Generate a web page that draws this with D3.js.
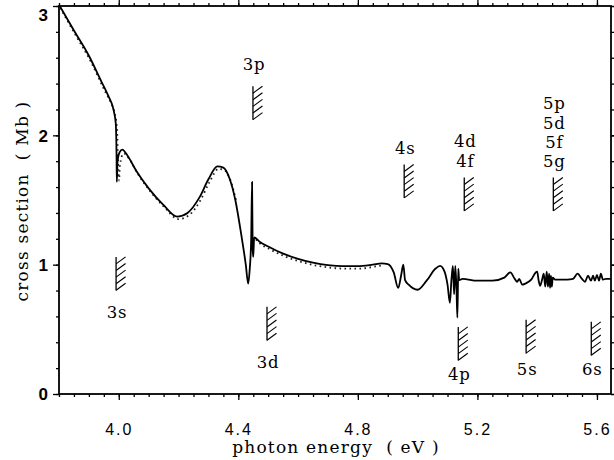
<!DOCTYPE html>
<html>
<head>
<meta charset="utf-8">
<script src="https://cdn.jsdelivr.net/npm/d3@7"></script>
<style>
  body { margin: 0; background: #fff; }
  svg { display: block; }
</style>
</head>
<body>
<svg id="chart" width="614" height="460"></svg>
<script>
// Photoionization cross section (Mb) versus photon energy (eV)
const energy = [
  3.800, 3.850, 3.900, 3.943, 3.965, 3.980, 3.985, 3.990, 3.9925, 3.9935, 3.996, 4.003, 4.012,
  4.030, 4.060, 4.100, 4.150, 4.195, 4.230, 4.270, 4.300, 4.330, 4.350, 4.370, 4.390,
  4.410, 4.425, 4.433, 4.438, 4.443, 4.446, 4.448, 4.450, 4.453, 4.470, 4.500, 4.550,
  4.600, 4.650, 4.700, 4.750, 4.800, 4.850, 4.880, 4.900, 4.920, 4.935, 4.945, 4.952,
  4.958, 4.970, 5.000, 5.030, 5.060, 5.075, 5.090, 5.100, 5.108, 5.113, 5.118, 5.122,
  5.126, 5.130, 5.133, 5.136, 5.139, 5.150, 5.200, 5.250, 5.290, 5.310, 5.325, 5.333,
  5.340, 5.350, 5.360, 5.380, 5.395, 5.400, 5.405, 5.410, 5.417, 5.422, 5.427, 5.432,
  5.436, 5.440, 5.443, 5.446, 5.449, 5.452, 5.460, 5.500, 5.520, 5.535, 5.550, 5.560,
  5.570, 5.580, 5.587, 5.593, 5.600, 5.607, 5.613, 5.620, 5.630, 5.647
];
const crossSection = [
  3.01, 2.81, 2.615, 2.41, 2.305, 2.22, 2.17, 2.09, 1.85, 1.64, 1.80, 1.87, 1.89,
  1.84, 1.72, 1.59, 1.46, 1.372, 1.40, 1.52, 1.66, 1.76, 1.75, 1.67, 1.50,
  1.23, 1.00, 0.853, 0.96, 1.19, 1.64, 1.12, 1.06, 1.21, 1.18, 1.14, 1.085,
  1.045, 1.015, 0.996, 0.988, 0.988, 1.000, 1.010, 1.005, 0.94, 0.82, 0.92, 1.00,
  0.88, 0.845, 0.806, 0.876, 0.97, 0.99, 0.946, 0.845, 0.705, 0.88, 0.99, 0.77,
  0.99, 0.81, 0.59, 0.97, 0.88, 0.89, 0.876, 0.876, 0.90, 0.94, 0.89, 0.868,
  0.89, 0.845, 0.853, 0.884, 0.94, 0.946, 0.876, 0.837, 0.89, 0.93, 0.83, 0.946,
  0.83, 0.93, 0.82, 0.915, 0.83, 0.90, 0.884, 0.884, 0.89, 0.93, 0.89, 0.868,
  0.915, 0.876, 0.915, 0.876, 0.92, 0.876, 0.93, 0.884, 0.89, 0.89
];

// Smooth background calculation (dotted); null marks the gap
const energySmooth = [
  3.800, 3.850, 3.900, 3.950, 3.970, 3.980, 3.990, 3.994, 3.997, 4.000, 4.012, 4.030,
  4.060, 4.100, 4.150, 4.195, 4.230, 4.270, 4.300, 4.330, 4.350, 4.370, 4.390, 4.420,
  4.455, 4.470, 4.500, 4.550, 4.600, 4.650, 4.700, 4.750, 4.800, 4.850, 4.875
];
const crossSectionSmooth = [
  2.995, 2.79, 2.59, 2.35, 2.26, 2.20, 2.06, 1.80, 1.66, 1.78, 1.87, 1.83,
  1.71, 1.58, 1.45, 1.362, 1.39, 1.51, 1.65, 1.75, 1.74, 1.66, 1.49, null,
  1.205, 1.17, 1.13, 1.075, 1.035, 1.005, 0.987, 0.979, 0.979, 0.993, 1.003
];

// Ionization thresholds
const thresholdLabels = [["3s"], ["3p"], ["3d"], ["4s"], ["4p"], ["4d", "4f"], ["5s"], ["5p", "5d", "5f", "5g"], ["6s"]];
const thresholdEnergies = [3.991, 4.449, 4.496, 4.955, 5.136, 5.156, 5.363, 5.454, 5.581];
const markerTops = [1.06, 2.38, 0.674, 1.775, 0.519, 1.674, 0.574, 1.674, 0.558];
const labelBaselines = [0.589, 2.504, 0.202, 1.853, 0.109, 1.907, 0.147, 2.202, 0.147];

const xMajorTicks = [4.0, 4.4, 4.8, 5.2, 5.6];
const yMajorTicks = [0, 1, 2, 3];

const svg = d3.select("#chart");
const x = d3.scaleLinear().domain([3.8, 5.647]).range([59, 611]);
const y = d3.scaleLinear().domain([0, 3]).range([394, 6]);

const xMinor = d3.range(3.8, 5.646, 0.05).map(v => +v.toFixed(2));
const yMinor = d3.range(0, 3.001, 0.2).map(v => +v.toFixed(1));

const tickFont = "'Liberation Sans', Arial, sans-serif";
const serifFont = "'DejaVu Serif', 'Liberation Serif', serif";

function styleAxis(g) {
  g.select(".domain").remove();
  g.selectAll("line").attr("stroke", "#000").attr("stroke-width", 1.3);
}

// minor ticks on all four sides
svg.append("g").attr("transform", `translate(0,${y(0)})`)
  .call(d3.axisBottom(x).tickValues(xMinor).tickSize(3).tickFormat(""))
  .call(styleAxis);
svg.append("g").attr("transform", `translate(0,${y(3)})`)
  .call(d3.axisTop(x).tickValues(xMinor).tickSize(3).tickFormat(""))
  .call(styleAxis);
svg.append("g").attr("transform", `translate(${x.range()[0]},0)`)
  .call(d3.axisLeft(y).tickValues(yMinor).tickSize(3).tickFormat(""))
  .call(styleAxis);
svg.append("g").attr("transform", `translate(${x.range()[1]},0)`)
  .call(d3.axisRight(y).tickValues(yMinor).tickSize(3).tickFormat(""))
  .call(styleAxis);

// major ticks with labels
const xAxis = svg.append("g").attr("transform", `translate(0,${y(0)})`)
  .call(d3.axisBottom(x).tickValues(xMajorTicks).tickSize(6).tickFormat(d3.format(".1f")))
  .call(styleAxis);
xAxis.selectAll("text")
  .attr("y", 41).attr("dy", 0)
  .attr("fill", "#000")
  .style("font-family", tickFont).style("font-size", "16px").style("letter-spacing", "2px");
svg.append("g").attr("transform", `translate(0,${y(3)})`)
  .call(d3.axisTop(x).tickValues(xMajorTicks).tickSize(6).tickFormat(""))
  .call(styleAxis);

const yAxis = svg.append("g").attr("transform", `translate(${x.range()[0]},0)`)
  .call(d3.axisLeft(y).tickValues(yMajorTicks).tickSize(6).tickFormat(d3.format("d")))
  .call(styleAxis);
yAxis.selectAll("text")
  .attr("x", -11).attr("dy", d => d === 3 ? "0.85em" : "0.35em")
  .attr("fill", "#000")
  .style("font-family", tickFont).style("font-size", "17px").style("font-weight", "bold");
svg.append("g").attr("transform", `translate(${x.range()[1]},0)`)
  .call(d3.axisRight(y).tickValues(yMajorTicks).tickSize(6).tickFormat(""))
  .call(styleAxis);

// frame
svg.append("rect")
  .attr("x", x.range()[0]).attr("y", y(3))
  .attr("width", x.range()[1] - x.range()[0]).attr("height", y(0) - y(3))
  .attr("fill", "none").attr("stroke", "#000").attr("stroke-width", 1.8);

svg.append("defs").append("clipPath").attr("id", "plot-clip")
  .append("rect")
  .attr("x", x.range()[0]).attr("y", y(3))
  .attr("width", x.range()[1] - x.range()[0]).attr("height", y(0) - y(3));

const plot = svg.append("g").attr("clip-path", "url(#plot-clip)");

// dotted smooth curve
const smoothPts = energySmooth.map((e, i) => [e, crossSectionSmooth[i]]);
plot.append("path")
  .datum(smoothPts)
  .attr("fill", "none")
  .attr("stroke", "#222")
  .attr("stroke-width", 1.8)
  .attr("stroke-dasharray", "1.6,3.4")
  .attr("transform", "translate(1.2,1.2)")
  .attr("d", d3.line()
    .defined(d => d[1] !== null)
    .x(d => x(d[0])).y(d => y(d[1]))
    .curve(d3.curveMonotoneX));

// full calculation (solid)
const pts = energy.map((e, i) => [e, crossSection[i]]);
plot.append("path")
  .datum(pts)
  .attr("fill", "none")
  .attr("stroke", "#000")
  .attr("stroke-width", 1.8)
  .attr("stroke-linejoin", "round")
  .attr("d", d3.line().x(d => x(d[0])).y(d => y(d[1])).curve(d3.curveMonotoneX));

// threshold markers: vertical bar with hatching
const markerLen = 0.26;
const thr = svg.append("g");
thresholdEnergies.forEach((e, i) => {
  const px = x(e);
  const yTop = y(markerTops[i]);
  const yBot = y(markerTops[i] - markerLen);
  const g = thr.append("g");
  g.append("line")
    .attr("x1", px).attr("x2", px).attr("y1", yTop).attr("y2", yBot)
    .attr("stroke", "#000").attr("stroke-width", 1.3);
  d3.range(5).forEach(k => {
    const y0 = yTop + k * 6.6;
    g.append("line")
      .attr("x1", px).attr("y1", y0 + 7)
      .attr("x2", px + 9.5).attr("y2", y0)
      .attr("stroke", "#000").attr("stroke-width", 1.1);
  });
  const t = g.append("text")
    .attr("x", px + 1).attr("y", y(labelBaselines[i]))
    .attr("text-anchor", "middle")
    .style("font-family", serifFont).style("font-size", "16.5px")
    .style("letter-spacing", "0.8px");
  thresholdLabels[i].forEach((s, j) => {
    t.append("tspan").attr("x", px + 1).attr("dy", j === 0 ? 0 : 19.3).text(s);
  });
});

// axis titles
const gap = "\u00a0\u00a0";
svg.append("text")
  .attr("x", 336).attr("y", 453)
  .attr("text-anchor", "middle")
  .style("font-family", serifFont).style("font-size", "17px")
  .style("letter-spacing", "1.2px")
  .text(`photon energy${gap}(\u00a0eV\u00a0)`);

svg.append("text")
  .attr("transform", "translate(28,201) rotate(-90)")
  .attr("text-anchor", "middle")
  .style("font-family", serifFont).style("font-size", "17px")
  .style("letter-spacing", "1.2px")
  .text(`cross section${gap}(\u00a0Mb\u00a0)`);
</script>
</body>
</html>
